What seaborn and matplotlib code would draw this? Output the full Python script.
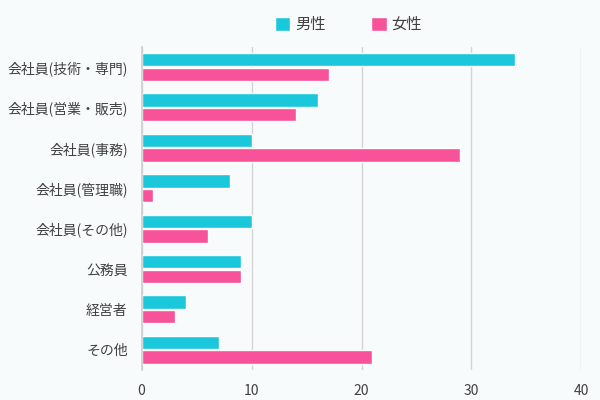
import pandas as pd
import matplotlib
matplotlib.use("Agg")
import matplotlib.pyplot as plt
import seaborn as sns

# --- データ ---
categories = ["会社員(技術・専門)", "会社員(営業・販売)", "会社員(事務)", "会社員(管理職)",
              "会社員(その他)", "公務員", "経営者", "その他"]
male = [34, 16, 10, 8, 10, 9, 4, 7]
female = [17, 14, 29, 1, 6, 9, 3, 21]
series_names = ["男性", "女性"]
x_ticks = [0, 10, 20, 30, 40]

df = pd.DataFrame({
    "category": categories * 2,
    "value": male + female,
    "sex": [series_names[0]] * len(categories) + [series_names[1]] * len(categories),
})

sns.set_theme(style="white")
plt.rcParams['font.family'] = ['Noto Sans CJK JP', 'DejaVu Sans']
bg = "#f8fbfc"
text_color = "#404040"

fig = plt.figure(figsize=(6, 4), dpi=100, facecolor=bg)
ax = fig.add_axes([0.236, 0.075, 0.733, 0.808])
ax.set_facecolor(bg)

sns.barplot(data=df, y="category", x="value", hue="sex", orient="h",
            palette=["#1bc8db", "#f7529a"], width=0.72, gap=0.08,
            saturation=1, ax=ax, legend=True)

ax.set_xlim(0, 40)
ax.set_xticks(x_ticks)
ax.xaxis.grid(True, color="#d4d4d4", linewidth=1)
ax.set_axisbelow(True)
for s in ["top", "right", "bottom"]:
    ax.spines[s].set_visible(False)
ax.spines["left"].set_color("#cfcfcf")
ax.tick_params(axis="both", length=0, labelsize=10, colors=text_color, pad=10)
ax.set_xlabel("")
ax.set_ylabel("")

ax.legend(loc="lower center", bbox_to_anchor=(0.47, 1.0), ncol=2, frameon=False,
          fontsize=11, handlelength=1.0, handleheight=1.0, columnspacing=3.0,
          handletextpad=0.3, labelcolor=text_color)

fig.savefig("out.png", dpi=100, facecolor=bg)
